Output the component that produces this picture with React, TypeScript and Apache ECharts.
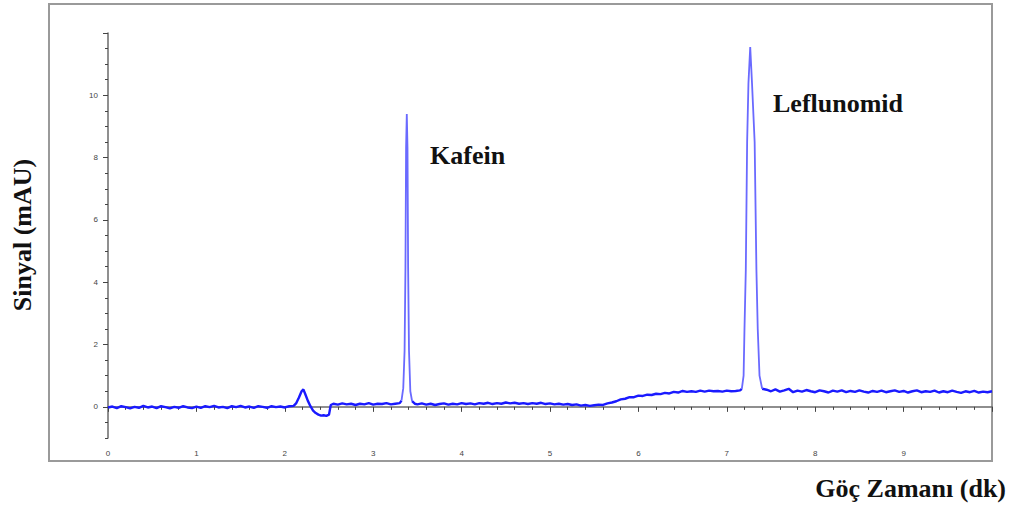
import React, { useEffect, useRef } from "react";
import * as echarts from "echarts";

// Chromatogram segments: [time (min), signal (mAU)]
const baselineStart: number[][] = [
  [0, -0.02], [0.05, 0.01], [0.1, -0.04], [0.15, 0.02], [0.2, -0.01], [0.25, -0.05], [0.3, 0.0], [0.35, -0.03],
  [0.4, 0.03], [0.45, -0.02], [0.5, 0.01], [0.55, -0.04], [0.6, 0.02], [0.65, -0.01], [0.7, -0.05], [0.75, 0.0],
  [0.8, -0.03], [0.85, 0.02], [0.9, -0.02], [0.95, -0.04], [1.0, 0.01], [1.05, -0.03], [1.1, 0.02], [1.15, -0.01],
  [1.2, 0.03], [1.25, -0.02], [1.3, 0.0], [1.35, -0.04], [1.4, 0.02], [1.45, -0.01], [1.5, 0.03], [1.55, -0.02],
  [1.6, 0.01], [1.65, -0.03], [1.7, 0.02], [1.75, 0.0], [1.8, -0.03], [1.85, 0.02], [1.9, -0.01], [1.95, 0.01],
  [2.0, -0.02], [2.05, 0.02], [2.1, 0.03],
];
const systemPeak: number[][] = [
  [2.13, 0.12], [2.16, 0.3], [2.19, 0.5], [2.21, 0.56], [2.23, 0.42], [2.26, 0.2], [2.29, 0.02], [2.32, -0.12],
  [2.35, -0.2], [2.38, -0.25], [2.41, -0.28], [2.44, -0.27], [2.47, -0.29], [2.5, -0.25], [2.52, 0.06],
];
const baselineBeforeKafein: number[][] = [
  [2.55, 0.1], [2.6, 0.07], [2.65, 0.11], [2.7, 0.08], [2.75, 0.1], [2.8, 0.06], [2.85, 0.1], [2.9, 0.08],
  [2.95, 0.12], [3.0, 0.07], [3.05, 0.1], [3.1, 0.09], [3.15, 0.12], [3.2, 0.08], [3.25, 0.1], [3.3, 0.12],
  [3.32, 0.2],
];
const kafeinPeak: number[][] = [
  [3.32, 0.2], [3.34, 0.6], [3.355, 1.8], [3.365, 4.5], [3.372, 8.3], [3.38, 9.4], [3.388, 8.3], [3.395, 4.5],
  [3.405, 1.8], [3.42, 0.5], [3.44, 0.18],
];
const baselineMiddle: number[][] = [
  [3.44, 0.18], [3.47, 0.1], [3.5, 0.08], [3.55, 0.11], [3.6, 0.07], [3.65, 0.1], [3.7, 0.06], [3.75, 0.09], [3.8, 0.11],
  [3.85, 0.07], [3.9, 0.1], [3.95, 0.08], [4.0, 0.12], [4.05, 0.09], [4.1, 0.11], [4.15, 0.08], [4.2, 0.12],
  [4.25, 0.1], [4.3, 0.13], [4.35, 0.09], [4.4, 0.12], [4.45, 0.1], [4.5, 0.14], [4.55, 0.11], [4.6, 0.13],
  [4.65, 0.1], [4.7, 0.12], [4.75, 0.09], [4.8, 0.12], [4.85, 0.1], [4.9, 0.13], [4.95, 0.09], [5.0, 0.11],
  [5.05, 0.08], [5.1, 0.1], [5.15, 0.07], [5.2, 0.09], [5.25, 0.06], [5.3, 0.08], [5.35, 0.04], [5.4, 0.06],
  [5.45, 0.03], [5.5, 0.05],
];
const baselineRise: number[][] = [
  [5.55, 0.07], [5.6, 0.06], [5.65, 0.11], [5.7, 0.14], [5.75, 0.18], [5.8, 0.24], [5.85, 0.26], [5.9, 0.31],
  [5.95, 0.31], [6.0, 0.36], [6.05, 0.35], [6.1, 0.39], [6.15, 0.38], [6.2, 0.42], [6.25, 0.41], [6.3, 0.45],
  [6.35, 0.43], [6.4, 0.48], [6.45, 0.46], [6.5, 0.51], [6.55, 0.48], [6.6, 0.5], [6.65, 0.48], [6.7, 0.52],
  [6.75, 0.49], [6.8, 0.52], [6.85, 0.5], [6.9, 0.51], [6.95, 0.49], [7.0, 0.52], [7.05, 0.5], [7.1, 0.51],
  [7.15, 0.53], [7.17, 0.58],
];
const leflunomidPeak: number[][] = [
  [7.17, 0.58], [7.19, 1.0], [7.2, 2.5], [7.215, 4.4], [7.23, 8.5], [7.245, 10.4], [7.265, 11.55],
  [7.285, 10.4], [7.315, 8.5], [7.335, 4.4], [7.35, 2.5], [7.37, 1.0], [7.4, 0.58],
];
const baselineEnd: number[][] = [
  [7.4, 0.58], [7.45, 0.55], [7.5, 0.5], [7.55, 0.56], [7.6, 0.49], [7.65, 0.53], [7.7, 0.58], [7.75, 0.47], [7.8, 0.52],
  [7.85, 0.49], [7.9, 0.54], [7.95, 0.5], [8.0, 0.47], [8.05, 0.53], [8.1, 0.5], [8.15, 0.46], [8.2, 0.52],
  [8.25, 0.49], [8.3, 0.53], [8.35, 0.47], [8.4, 0.51], [8.45, 0.48], [8.5, 0.53], [8.55, 0.49], [8.6, 0.46],
  [8.65, 0.51], [8.7, 0.48], [8.75, 0.52], [8.8, 0.47], [8.85, 0.5], [8.9, 0.53], [8.95, 0.48], [9.0, 0.51],
  [9.05, 0.46], [9.1, 0.5], [9.15, 0.53], [9.2, 0.47], [9.25, 0.5], [9.3, 0.48], [9.35, 0.52], [9.4, 0.46],
  [9.45, 0.5], [9.5, 0.47], [9.55, 0.52], [9.6, 0.48], [9.65, 0.45], [9.7, 0.5], [9.75, 0.47], [9.8, 0.51],
  [9.85, 0.46], [9.9, 0.49], [9.95, 0.47], [10.0, 0.5],
];

// Axis ticks and labels
const yMajorTicks = [0, 2, 4, 6, 8, 10, 12];
const yLabels = [0, 2, 4, 6, 8, 10];
const yMinorTicks = [-1, -0.5, 0.5, 1, 1.5, 2.5, 3, 3.5, 4.5, 5, 5.5, 6.5, 7, 7.5, 8.5, 9, 9.5, 10.5, 11, 11.5];
const xLabels = ["0", "1", "2", "3", "4", "5", "6", "7", "8", "9"];

const peakNames = ["Kafein", "Leflunomid"];
const xTitle = "Göç Zamanı (dk)";
const yTitle = "Sinyal (mAU)";

export default function App() {
  const ref = useRef<HTMLDivElement>(null);

  useEffect(() => {
    if (!ref.current) return;
    const chart = echarts.init(ref.current, null, { renderer: "svg" });
    const gap = ["-", "-"];
    const baselineData = [
      ...baselineStart,
      ...systemPeak,
      ...baselineBeforeKafein,
      gap,
      ...baselineMiddle,
      ...baselineRise,
      gap,
      ...baselineEnd,
    ];
    const peakData = [...kafeinPeak, gap, ...leflunomidPeak];
    const titleFont = "bold 26px 'Liberation Serif', 'Times New Roman', serif";
    const axisColor = "#6a6a6a";
    const tickColor = "#444";
    chart.setOption({
      animation: false,
      backgroundColor: "#ffffff",
      grid: { left: 108, right: 18, top: 33, bottom: 68 },
      xAxis: {
        type: "value",
        min: 0,
        max: 10,
        interval: 1,
        axisLine: { show: true, lineStyle: { color: axisColor, width: 1.5 } },
        axisTick: { show: true, length: 5, lineStyle: { color: tickColor, width: 1 } },
        minorTick: { show: true, splitNumber: 5, length: 3, lineStyle: { color: tickColor, width: 1 } },
        axisLabel: {
          fontSize: 8,
          color: "#444",
          margin: 11,
          fontFamily: "'Liberation Sans', Arial, sans-serif",
          formatter: (v: number) => (v >= 0 && v < xLabels.length ? xLabels[v] : ""),
        },
        splitLine: { show: false },
        minorSplitLine: { show: false },
      },
      yAxis: [
        {
          type: "value",
          min: -1,
          max: 12,
          interval: 1,
          axisLine: { show: true, lineStyle: { color: axisColor, width: 1.5 } },
          axisTick: { show: true, length: 5, customValues: yMajorTicks, lineStyle: { color: tickColor, width: 1 } },
          axisLabel: {
            customValues: yLabels,
            fontSize: 8,
            color: "#444",
            margin: 10,
            fontFamily: "'Liberation Sans', Arial, sans-serif",
          },
          splitLine: { show: false },
        },
        {
          type: "value",
          min: -1,
          max: 12,
          interval: 1,
          position: "left",
          axisLine: { show: false },
          axisTick: { show: true, length: 3, customValues: yMinorTicks, lineStyle: { color: tickColor, width: 1 } },
          axisLabel: { show: false },
          splitLine: { show: false },
        },
      ],
      series: [
        {
          type: "line",
          data: baselineData,
          yAxisIndex: 0,
          symbol: "none",
          showSymbol: false,
          connectNulls: false,
          lineStyle: { color: "#1a1aff", width: 2.4 },
        },
        {
          type: "line",
          data: peakData,
          yAxisIndex: 0,
          symbol: "none",
          showSymbol: false,
          connectNulls: false,
          lineStyle: { color: "#6a6aff", width: 1.8 },
        },
      ],
      graphic: [
        {
          type: "rect",
          shape: { x: 49, y: 4, width: 943, height: 457 },
          style: { fill: "none", stroke: "#9a9a9a", lineWidth: 2 },
          silent: true,
        },
        {
          type: "text",
          x: 430,
          y: 155,
          style: { text: peakNames[0], font: titleFont, fill: "#111", textAlign: "left", textVerticalAlign: "middle" },
        },
        {
          type: "text",
          x: 773,
          y: 103,
          style: { text: peakNames[1], font: titleFont, fill: "#111", textAlign: "left", textVerticalAlign: "middle" },
        },
        {
          type: "text",
          x: 1006,
          y: 488,
          style: { text: xTitle, font: titleFont, fill: "#111", textAlign: "right", textVerticalAlign: "middle" },
        },
        {
          type: "text",
          x: 22,
          y: 235,
          rotation: Math.PI / 2,
          style: { text: yTitle, font: titleFont, fill: "#111", textAlign: "center", textVerticalAlign: "middle" },
        },
      ],
    });
    return () => chart.dispose();
  }, []);

  return (
    <div
      ref={ref}
      style={{ position: "fixed", left: 0, top: 0, width: 1010, height: 506, background: "#fff" }}
    />
  );
}
